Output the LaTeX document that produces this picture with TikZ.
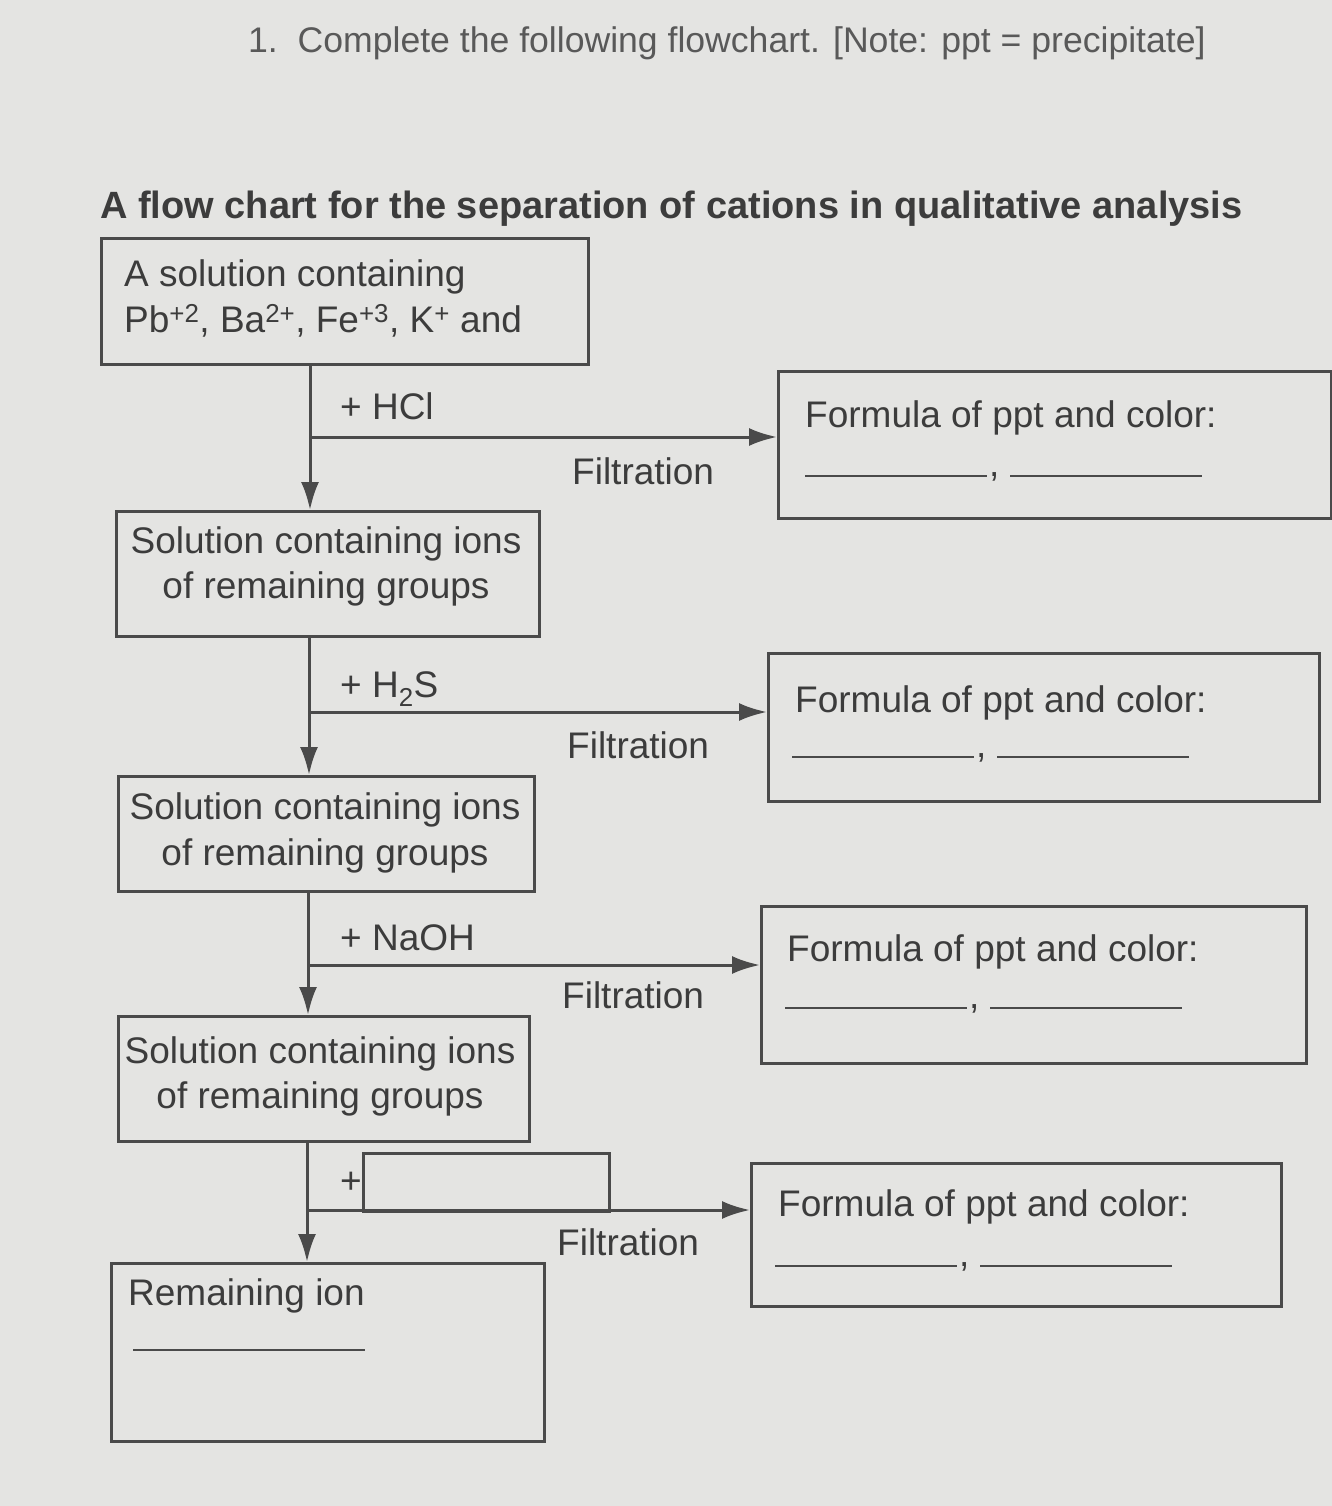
\documentclass[tikz,border=0pt]{standalone}
\usepackage{fontspec}
\setmainfont{Liberation Sans}
\usetikzlibrary{arrows.meta,calc}
\definecolor{bg}{HTML}{E4E4E2}
\definecolor{ink}{HTML}{3C3C3C}
\definecolor{linecol}{HTML}{4A4A4A}
\tikzset{
  box/.style={draw=linecol, line width=3pt, inner sep=0pt, anchor=north west},
  txt/.style={inner sep=0pt, anchor=base west, text=ink, font=\fontsize{37}{44}\selectfont},
  ctxt/.style={inner sep=0pt, anchor=base, text=ink, font=\fontsize{37}{44}\selectfont},
  arr/.style={draw=linecol, line width=3pt, -{Latex[length=28pt,width=18pt]}},
  blank/.style={draw=linecol, line width=2.5pt},
}
\begin{document}
\begin{tikzpicture}[x=1pt,y=-1pt]
\fill[bg] (0,0) rectangle (1332,1506);
\useasboundingbox (0,0) rectangle (1332,1506);

% titles
\node[txt, font=\fontsize{35.6}{42}\selectfont, text=ink!85] (title) at (248,53) {1.\ \ Complete the following flowchart. [Note: ppt = precipitate]};
\node[txt, font=\bfseries\fontsize{38}{44}\selectfont] (subtitle) at (100,219) {A flow chart for the separation of cations in qualitative analysis};

% left boxes
\node[box, minimum width=487pt, minimum height=126pt] (b1) at (100,237) {};
\node[txt] (b1t1) at (124,286) {A solution containing};
\node[txt] (b1t2) at (124,332) {Pb\textsuperscript{+2}, Ba\textsuperscript{2+}, Fe\textsuperscript{+3}, K\textsuperscript{+} and};

\node[box, minimum width=423pt, minimum height=125pt] (b2) at (115,510) {};
\node[ctxt] (b2t1) at (326,553) {Solution containing ions};
\node[ctxt] (b2t2) at (326,598) {of remaining groups};

\node[box, minimum width=416pt, minimum height=115pt] (b3) at (117,775) {};
\node[ctxt] (b3t1) at (325,819) {Solution containing ions};
\node[ctxt] (b3t2) at (325,865) {of remaining groups};

\node[box, minimum width=411pt, minimum height=125pt] (b4) at (117,1015) {};
\node[ctxt] (b4t1) at (320,1063) {Solution containing ions};
\node[ctxt] (b4t2) at (320,1108) {of remaining groups};

\node[box, minimum width=433pt, minimum height=178pt] (b5) at (110,1262) {};
\node[txt] (b5t) at (128,1305) {Remaining ion};
\coordinate (b5l1) at (133,1350);
\coordinate (b5l2) at (365,1350);
\draw[blank] (b5l1) -- (b5l2);

% right boxes
\node[box, minimum width=553pt, minimum height=147pt] (r1) at (777,370) {};
\node[txt] (r1t) at (805,427) {Formula of ppt and color:};
\node[box, minimum width=551pt, minimum height=148pt] (r2) at (767,652) {};
\node[txt] (r2t) at (795,712) {Formula of ppt and color:};
\node[box, minimum width=545pt, minimum height=157pt] (r3) at (760,905) {};
\node[txt] (r3t) at (787,961) {Formula of ppt and color:};
\node[box, minimum width=530pt, minimum height=143pt] (r4) at (750,1162) {};
\node[txt] (r4t) at (778,1216) {Formula of ppt and color:};

% blanks in right boxes
\foreach \r/\x/\y in {r1/805/476, r2/792/757, r3/785/1008, r4/775/1266}{
  \draw[blank] (\x,\y) -- ++(182,0);
  \node[txt] (\r c) at (\x+184,\y) {,};
  \draw[blank] (\x+205,\y) -- ++(192,0);
}

% spine coordinates and junctions
\coordinate (s1) at (310,437);
\coordinate (s2) at (309,712);
\coordinate (s3) at (308,965);
\coordinate (s4) at (307,1210);

% vertical arrows
\draw[arr] (b1.south -| s1) -- (b2.north -| s1);
\draw[arr] (b2.south -| s2) -- (b3.north -| s2);
\draw[arr] (b3.south -| s3) -- (b4.north -| s3);
\draw[arr] (b4.south -| s4) -- (b5.north -| s4);

% horizontal arrows
\draw[arr] (s1) -- (s1 -| r1.west);
\draw[arr] (s2) -- (s2 -| r2.west);
\draw[arr] (s3) -- (s3 -| r3.west);
\draw[arr] (s4) -- (s4 -| r4.west);

% reagent labels
\node[txt] (l1) at (340,419) {+ HCl};
\node[txt] (l2) at (340,697) {+ H\textsubscript{2}S};
\node[txt] (l3) at (340,950) {+ NaOH};
\node[txt] (l4) at (340,1193) {+};
\node[box, minimum width=246pt, minimum height=58pt] (l4box) at (362,1152) {};

% filtration labels
\node[txt] (f1) at (572,484) {Filtration};
\node[txt] (f2) at (567,758) {Filtration};
\node[txt] (f3) at (562,1008) {Filtration};
\node[txt] (f4) at (557,1255) {Filtration};
\end{tikzpicture}
\end{document}
